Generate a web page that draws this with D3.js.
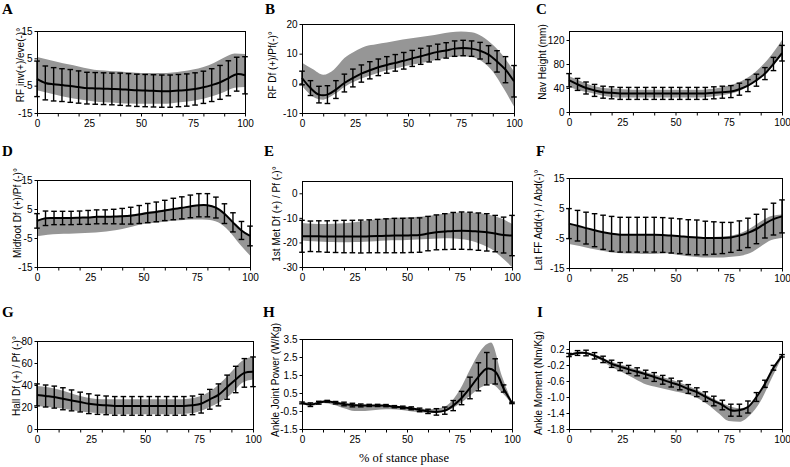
<!DOCTYPE html>
<html><head><meta charset="utf-8">
<script src="https://cdn.jsdelivr.net/npm/d3@7"></script>
<style>body{margin:0;background:#fff} svg{display:block}</style>
</head><body>
<svg id="c" width="790" height="467"></svg>
<script>
// ---------- data ----------
const meanX = [0,4,8,12,16,20,24,28,32,36,40,44,48,52,56,60,64,68,72,76,80,84,88,92,96,100];
const bandX = [0,5,10,15,20,25,30,35,40,45,50,55,60,65,70,75,80,85,90,95,100];
const xTickLabels = [0,25,50,75,100];
const xMinorTicks = [0,10,20,30,40,50,60,70,80,90,100];
const xTitle = "% of stance phase";

// A: RF inversion/eversion
const aMean = [-2.5,-4.0,-4.5,-4.8,-5.1,-5.5,-5.9,-6.0,-6.1,-6.2,-6.3,-6.5,-6.7,-6.8,-6.9,-7.0,-7.0,-6.8,-6.6,-6.2,-5.6,-4.8,-3.8,-2.3,-0.8,-1.2];
const aSD   = [6.5,6.2,6.1,6.0,6.0,5.9,5.8,5.8,5.8,5.8,5.9,5.9,5.9,5.9,5.9,5.9,5.9,5.9,5.9,5.9,5.9,6.0,6.2,6.4,6.2,6.8];
const aUpper = [5.5,4.6,3.7,2.8,2.0,1.2,0.6,0.4,0.2,-0.1,-0.4,-0.4,-0.4,-0.2,0.3,0.9,1.8,3.3,5.3,6.8,6.6];
const aLower = [-6.7,-7.6,-8.5,-9.3,-10,-10.5,-11,-11.2,-11.4,-11.5,-11.6,-11.6,-11.6,-11.4,-11,-10.5,-9.8,-8.7,-7.3,-5.8,-5.5];
const aYTicks = [15,5,-5,-15];

// B: RF Df/Pf
const bMean = [1.8,-1.6,-3.8,-3.8,-2.1,0.1,1.8,3.3,4.4,5.4,6.2,6.9,7.6,8.4,9.1,9.9,10.6,11.1,11.7,11.9,11.7,11.0,9.7,7.4,4.6,0.7];
const bSD   = [2.3,2.5,2.8,3.0,3.0,3.0,3.0,2.9,2.9,2.8,2.8,2.8,2.8,2.7,2.7,2.7,2.6,2.6,2.6,2.6,2.6,2.8,3.0,3.6,4.4,5.3];
const bUpper = [6.9,4.8,2.9,4.6,8.5,10.8,12.5,13.2,13.8,14.4,15,15.5,16,16.6,17.2,17.5,17.2,15.8,13,9.1,4];
const bLower = [-0.8,-4.4,-5.5,-3.8,-1.2,0.7,2.1,3.3,4.4,5.2,6,6.7,7.4,8.2,8.9,9.1,8.9,7.4,4,-1.6,-7.8];
const bYTicks = [20,10,0,-10];

// C: Navicular height
const cMean = [53,46,40,36,33,32,31,31,31,31,31,31,31,31,31,31,31,32,33,34,38,44,53,64,80,98];
const cSD   = [11,10,10,10,10,10,10,10,10,10,10,10,10,10,10,10,10,10,10,10,10,10,10,10,11,13];
const cUpper = [60,52,45,41,39,38,37,37,37,37,37,37,37,38,40,44,50,60,75,95,120];
const cLower = [42,36,32,28,25,24,24,24,24,24,24,24,24,25,27,30,35,45,58,75,95];
const cYTicks = [120,80,40,0];

// D: Midfoot Df/Pf
const dMean = [0.9,1.8,1.9,1.9,1.9,2.0,2.1,2.3,2.3,2.4,2.5,2.7,3.1,3.6,4.0,4.5,5.0,5.4,5.9,6.3,6.3,5.5,3.4,0.4,-2.4,-4.3];
const dSD   = [2.5,2.5,2.3,2.3,2.3,2.3,2.4,2.4,2.4,2.5,2.7,2.9,3.1,3.3,3.4,3.5,3.7,3.8,3.9,4.0,4.0,3.6,3.4,3.3,3.1,3.4];
const dUpper = [1.3,1.9,2.0,2.0,2.1,2.2,2.4,2.5,2.8,3.2,3.8,4.3,4.8,5.3,5.8,6.3,6.4,5.0,2.0,-1.8,-4.6];
const dLower = [-4.4,-3.9,-3.6,-3.5,-3.4,-3.2,-2.9,-2.5,-1.9,-1.0,-0.2,0.3,0.6,1.0,1.3,1.4,1.3,0.4,-2.5,-7,-11];
const dYTicks = [15,5,-5,-15];

// E: 1st Met Df/Pf
const eMean = [-17.5,-17.5,-17.5,-17.6,-17.6,-17.6,-17.6,-17.6,-17.5,-17.4,-17.3,-17.2,-17.2,-17.1,-17.0,-16.4,-15.9,-15.6,-15.3,-15.2,-15.3,-15.6,-15.9,-16.4,-17.0,-17.2];
const eSD   = [6.5,6.2,6.3,6.4,6.5,6.6,6.6,6.7,6.7,6.8,6.9,7.0,7.0,7.0,7.0,7.0,7.1,7.3,7.5,7.6,7.6,7.6,7.6,7.4,7.3,8.2];
const eUpper = [-12.1,-12.4,-12.5,-12.4,-12.2,-11.8,-11.2,-10.7,-10.2,-10,-9.8,-9.5,-9.2,-8.6,-8.1,-7.8,-7.8,-8.1,-8.9,-10.3,-12.5];
const eLower = [-19.2,-19.5,-19.7,-19.8,-19.9,-19.8,-19.7,-19.5,-19.2,-19.1,-19,-18.8,-18.6,-18.4,-18.3,-18.6,-19.2,-20.6,-22.6,-26,-30];
const eYTicks = [0,-10,-20,-30];

// F: Lat FF Add/Abd
const fMean = [-0.2,-0.9,-1.7,-2.4,-3.1,-3.6,-3.9,-3.9,-3.9,-3.9,-3.9,-4.0,-4.2,-4.4,-4.7,-4.8,-5.0,-5.0,-5.0,-4.8,-4.2,-3.3,-2.0,-0.2,1.3,2.2];
const fSD   = [5.0,5.1,5.3,5.5,5.7,5.8,5.8,5.8,5.8,5.8,5.8,5.8,5.8,5.8,5.8,5.8,5.6,5.4,5.2,5.0,4.9,4.9,4.9,4.8,5.3,5.5];
const fUpper = [-0.5,-1.2,-2.0,-2.8,-3.5,-3.7,-3.8,-3.9,-4.0,-4.1,-4.3,-4.5,-4.6,-4.7,-4.6,-4.3,-3.5,-1.8,0.5,2.3,2.8];
const fLower = [-7,-7.7,-8.5,-9.2,-9.8,-10.1,-10.2,-10.3,-10.3,-10.1,-10.5,-11,-11.3,-11.5,-11.5,-11.3,-11,-10,-7.8,-5.7,-5.0];
const fYTicks = [15,5,-5,-15];

// G: Hallux Df/Pf
const gMean = [31,30,29,27.5,26,24.5,23,22,21.5,21,21,21,21,21,21,21,21,21,21.5,23,27,31,38,45,51,52];
const gSD   = [10,10,10,10,9.5,9,9,8.7,8.5,8.5,8.5,8.5,8.5,8.5,8.5,8.5,8.5,8.5,8.5,8.5,9,10,11,12,13,13.5];
const gUpper = [39,38,36,33,30,28,27,27,27,27,27,27,27,27,27.5,29.5,34,42,52,62,66];
const gLower = [21,20,19,17.5,16,15,14,13.5,13.5,13.5,13.5,13.5,13.5,13.5,14,16,20,25,32,42,45];
const gYTicks = [80,60,40,20,0];

// H: Ankle joint power
const hMean = [-0.05,-0.15,-0.04,0.04,-0.04,-0.11,-0.17,-0.19,-0.19,-0.19,-0.2,-0.26,-0.3,-0.35,-0.44,-0.52,-0.55,-0.48,-0.2,0.22,0.78,1.4,1.85,1.7,0.75,-0.05];
const hSD   = [0.05,0.1,0.08,0.05,0.07,0.1,0.1,0.08,0.06,0.06,0.06,0.06,0.07,0.08,0.1,0.12,0.18,0.2,0.28,0.37,0.6,0.78,0.9,0.7,0.2,0.04];
const hUpper = [0.0,-0.05,0.08,0.05,-0.08,-0.14,-0.15,-0.17,-0.2,-0.23,-0.28,-0.35,-0.4,-0.35,-0.1,0.65,1.8,2.85,3.3,1.5,0.0];
const hLower = [-0.1,-0.2,-0.05,-0.15,-0.35,-0.5,-0.5,-0.45,-0.4,-0.42,-0.48,-0.55,-0.6,-0.6,-0.45,-0.1,0.35,0.8,1.0,0.55,-0.1];
const hYTicks = [3.5,2.5,1.5,0.5,-0.5,-1.5];

// I: Ankle moment
const iMean = [0.05,0.1,0.1,0.03,-0.06,-0.17,-0.24,-0.31,-0.37,-0.43,-0.5,-0.57,-0.64,-0.71,-0.8,-0.88,-0.99,-1.1,-1.2,-1.33,-1.33,-1.25,-1.0,-0.67,-0.27,0.03];
const iSD   = [0.04,0.06,0.07,0.08,0.08,0.09,0.1,0.1,0.1,0.1,0.11,0.11,0.11,0.11,0.11,0.11,0.12,0.12,0.12,0.15,0.15,0.15,0.11,0.09,0.06,0.03];
const iUpper = [0.08,0.13,0.1,0.0,-0.12,-0.2,-0.28,-0.36,-0.44,-0.52,-0.6,-0.7,-0.82,-0.96,-1.1,-1.22,-1.28,-1.2,-0.85,-0.38,0.05];
const iLower = [0.02,0.08,0.05,-0.08,-0.25,-0.38,-0.52,-0.66,-0.74,-0.8,-0.86,-0.92,-1.02,-1.18,-1.4,-1.6,-1.62,-1.45,-1.1,-0.55,0.0];
const iYTicks = [0.2,-0.2,-0.6,-1.0,-1.4,-1.8];

// ---------- layout ----------
const panels = [
  {id:"A", mean:aMean, sd:aSD, up:aUpper, lo:aLower, ticks:aYTicks, dec:0, dom:[-15,15], title:"RF inv(+)/eve(-)°", L:37, R:245, T:31, B:113, lx:20, ly:65, px:2, py:14},
  {id:"B", mean:bMean, sd:bSD, up:bUpper, lo:bLower, ticks:bYTicks, dec:0, dom:[-10,20], title:"RF Df (+)/Pf(-)°", L:302, R:514, T:24, B:113, lx:272, ly:65, px:265, py:14},
  {id:"C", mean:cMean, sd:cSD, up:cUpper, lo:cLower, ticks:cYTicks, dec:0, dom:[0,135], title:"Nav Height (mm)", L:569, R:782, T:31, B:112, lx:542, ly:62, px:536, py:14},
  {id:"D", mean:dMean, sd:dSD, up:dUpper, lo:dLower, ticks:dYTicks, dec:0, dom:[-15,15], title:"Midfoot Df (+)/Pf (-)°", L:37, R:250, T:180, B:267, lx:17, ly:213, px:2, py:156},
  {id:"E", mean:eMean, sd:eSD, up:eUpper, lo:eLower, ticks:eYTicks, dec:0, dom:[-30,5], title:"1st Met Df (+) / Pf (-)°", L:302, R:512, T:181, B:267, lx:276, ly:214, px:264, py:156},
  {id:"F", mean:fMean, sd:fSD, up:fUpper, lo:fLower, ticks:fYTicks, dec:0, dom:[-15,15], title:"Lat FF Add(+) / Abd(-)°", L:569, R:782, T:178, B:268, lx:538, ly:220, px:536, py:156},
  {id:"G", mean:gMean, sd:gSD, up:gUpper, lo:gLower, ticks:gYTicks, dec:0, dom:[0,80], title:"Hall Df (+) / Pf (-)°", L:37, R:253, T:341, B:429, lx:16, ly:376, px:2, py:317},
  {id:"H", mean:hMean, sd:hSD, up:hUpper, lo:hLower, ticks:hYTicks, dec:1, dom:[-1.5,3.5], title:"Ankle Joint Power (W/Kg)", L:302, R:512, T:339, B:429, lx:275, ly:380, px:263, py:317},
  {id:"I", mean:iMean, sd:iSD, up:iUpper, lo:iLower, ticks:iYTicks, dec:1, dom:[-1.8,0.4], title:"Ankle Moment (Nm/Kg)", L:569, R:782, T:341, B:429, lx:538, ly:383, px:537, py:317}
];

const svg = d3.select("#c");
const SANS = "'Liberation Sans', Arial, sans-serif";
const SERIF = "'Liberation Serif', 'Times New Roman', serif";
const fmt = dec => d => (d < 0 ? "-" : "") + Math.abs(d).toFixed(dec);

panels.forEach((p, k) => {
  const x = d3.scaleLinear().domain([0,100]).range([p.L, p.R]);
  const y = d3.scaleLinear().domain(p.dom).range([p.B, p.T]);
  const g = svg.append("g");

  const clipId = "clip" + k;
  svg.append("clipPath").attr("id", clipId).append("rect")
    .attr("x", p.L).attr("y", p.T).attr("width", p.R - p.L).attr("height", p.B - p.T);

  // reference band
  const area = d3.area()
    .x((d, i) => x(bandX[i]))
    .y0((d, i) => y(p.lo[i]))
    .y1((d, i) => y(p.up[i]))
    .curve(d3.curveMonotoneX);
  g.append("path").datum(p.up).attr("d", area)
    .attr("fill", "#969696").attr("clip-path", `url(#${clipId})`);

  // frame
  g.append("rect").attr("x", p.L + 0.5).attr("y", p.T + 0.5)
    .attr("width", p.R - p.L).attr("height", p.B - p.T)
    .attr("fill", "none").attr("stroke", "#000").attr("stroke-width", 1);

  // mean line
  const line = d3.line()
    .x((d, i) => x(meanX[i]))
    .y(d => y(d))
    .curve(d3.curveCatmullRom.alpha(0.5));
  g.append("path").datum(p.mean).attr("d", line)
    .attr("fill", "none").attr("stroke", "#000").attr("stroke-width", 2);

  // error bars
  const eb = g.append("g").attr("stroke", "#000").attr("stroke-width", 1.4);
  p.mean.forEach((m, i) => {
    const cx = x(meanX[i]);
    const y1 = y(m + p.sd[i]), y2 = y(m - p.sd[i]);
    eb.append("line").attr("x1", cx).attr("x2", cx).attr("y1", y1).attr("y2", y2);
    eb.append("line").attr("x1", cx - 2.8).attr("x2", cx + 2.8).attr("y1", y1).attr("y2", y1);
    eb.append("line").attr("x1", cx - 2.8).attr("x2", cx + 2.8).attr("y1", y2).attr("y2", y2);
  });

  // x axis: minor ticks every 10, labels every 25
  const xa1 = d3.axisBottom(x).tickValues(xMinorTicks).tickSize(3).tickFormat("");
  const xg1 = g.append("g").attr("transform", `translate(0,${p.B + 0.5})`).call(xa1);
  xg1.select(".domain").remove();
  xg1.selectAll("line").attr("stroke", "#000");
  const xa2 = d3.axisBottom(x).tickValues(xTickLabels).tickSize(0).tickPadding(6).tickFormat(d3.format("d"));
  const xg2 = g.append("g").attr("transform", `translate(0,${p.B + 0.5})`).call(xa2);
  xg2.select(".domain").remove();
  xg2.selectAll("text").attr("font-family", SANS).attr("font-size", 10).attr("fill", "#000");

  // y axis
  const ya = d3.axisLeft(y).tickValues(p.ticks).tickSize(3).tickPadding(2).tickFormat(fmt(p.dec));
  const yg = g.append("g").attr("transform", `translate(${p.L + 0.5},0)`).call(ya);
  yg.select(".domain").remove();
  yg.selectAll("line").attr("stroke", "#000");
  yg.selectAll("text").attr("font-family", SANS).attr("font-size", 10).attr("fill", "#000");

  // y title
  g.append("text").attr("transform", `translate(${p.lx},${p.ly}) rotate(-90)`)
    .attr("text-anchor", "middle").attr("dy", "0.35em")
    .attr("font-family", SANS).attr("font-size", 10).attr("fill", "#000")
    .text(p.title);

  // panel letter
  g.append("text").attr("x", p.px).attr("y", p.py)
    .attr("font-family", SERIF).attr("font-weight", "bold").attr("font-size", 15)
    .attr("fill", "#000").text(p.id);
});

svg.append("text").attr("x", 404).attr("y", 462).attr("text-anchor", "middle")
  .attr("font-family", SERIF).attr("font-size", 12.5).attr("fill", "#000").text(xTitle);
</script>
</body></html>
